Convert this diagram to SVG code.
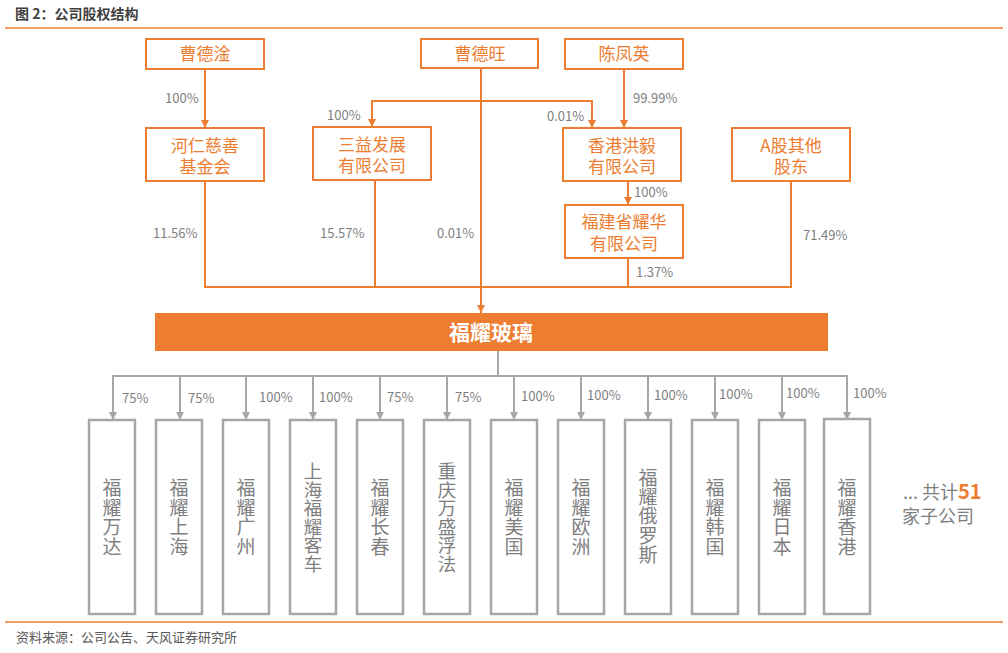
<svg xmlns="http://www.w3.org/2000/svg" width="1008" height="653" viewBox="0 0 1008 653">
<style>
text{font-family:"Noto Sans CJK SC","Liberation Sans",sans-serif}
.title{font-size:14px;font-weight:bold;fill:#404040}
.src{font-size:13px;fill:#595959}
.obox{fill:#fff;stroke:#ED7D31;stroke-width:2}
.otxt{font-size:17px;fill:#ED7D31;text-anchor:middle}
.pct{font-size:13px;fill:#7f7f7f}
.oline{fill:none;stroke:#ED7D31;stroke-width:2}
.gline{fill:none;stroke:#a6a6a6;stroke-width:2}
.gbox{fill:#fff;stroke:#a6a6a6;stroke-width:2.5}
.gtxt{font-size:19px;fill:#7f7f7f;text-anchor:middle}
.g6{font-size:18.5px}
.rule{stroke:#ED7D31;stroke-width:1.5}
</style>
<defs>
<marker id="ao" markerUnits="userSpaceOnUse" markerWidth="10" markerHeight="10" refX="9" refY="5" orient="auto"><path d="M1,1 L9,5 L1,9 Z" fill="#ED7D31"/></marker>
<marker id="ag" markerUnits="userSpaceOnUse" markerWidth="10" markerHeight="10" refX="9" refY="5" orient="auto"><path d="M1,1 L9,5 L1,9 Z" fill="#a6a6a6"/></marker>
</defs>
<rect width="1008" height="653" fill="#fff"/>
<text class="title" x="15" y="19">图 2：公司股权结构</text>
<line class="rule" x1="5" y1="28" x2="1003" y2="28"/>
<line class="rule" x1="5" y1="622" x2="1003" y2="622"/>
<text class="src" x="16" y="642">资料来源：公司公告、天风证券研究所</text>

<g id="connectors">
<path class="oline" d="M205 69 V128" marker-end="url(#ao)"/>
<path class="oline" d="M481 68 V313" marker-end="url(#ao)"/>
<path class="oline" d="M481 101 H372 V127" marker-end="url(#ao)"/>
<path class="oline" d="M481 101 H592 V128" marker-end="url(#ao)"/>
<path class="oline" d="M624 69 V128" marker-end="url(#ao)"/>
<path class="oline" d="M628 181 V205" marker-end="url(#ao)"/>
<path class="oline" d="M205 181 V287 H791 V181"/>
<path class="oline" d="M375 180 V287"/>
<path class="oline" d="M628 258 V287"/>
<path class="gline" d="M498 351 V376"/>
<path class="gline" d="M113 420 V376 H847 V420"/>
<path class="gline" d="M180 376 V420" marker-end="url(#ag)"/>
<path class="gline" d="M246 376 V420" marker-end="url(#ag)"/>
<path class="gline" d="M313 376 V420" marker-end="url(#ag)"/>
<path class="gline" d="M380 376 V420" marker-end="url(#ag)"/>
<path class="gline" d="M447 376 V420" marker-end="url(#ag)"/>
<path class="gline" d="M514 376 V420" marker-end="url(#ag)"/>
<path class="gline" d="M581 376 V420" marker-end="url(#ag)"/>
<path class="gline" d="M648 376 V420" marker-end="url(#ag)"/>
<path class="gline" d="M715 376 V420" marker-end="url(#ag)"/>
<path class="gline" d="M782 376 V420" marker-end="url(#ag)"/>
<path class="gline" d="M113 390 V420" marker-end="url(#ag)"/>
<path class="gline" d="M847 390 V420" marker-end="url(#ag)"/>
<text class="pct" x="165" y="103">100%</text>
<text class="pct" x="327" y="120">100%</text>
<text class="pct" x="547" y="121">0.01%</text>
<text class="pct" x="633" y="103">99.99%</text>
<text class="pct" x="634" y="197">100%</text>
<text class="pct" x="153" y="238">11.56%</text>
<text class="pct" x="320" y="238">15.57%</text>
<text class="pct" x="437" y="238">0.01%</text>
<text class="pct" x="636" y="277">1.37%</text>
<text class="pct" x="803" y="240">71.49%</text>
<text class="pct" x="122" y="403">75%</text>
<text class="pct" x="188" y="403">75%</text>
<text class="pct" x="259" y="402">100%</text>
<text class="pct" x="319" y="402">100%</text>
<text class="pct" x="387" y="402">75%</text>
<text class="pct" x="455" y="402">75%</text>
<text class="pct" x="521" y="401">100%</text>
<text class="pct" x="587" y="400">100%</text>
<text class="pct" x="654" y="400">100%</text>
<text class="pct" x="719" y="399">100%</text>
<text class="pct" x="786" y="398">100%</text>
<text class="pct" x="853" y="398">100%</text>
</g>

<g id="n-caodegan"><rect class="obox" x="146" y="39" width="118" height="30"/><text class="otxt" x="205" y="60">曹德淦</text></g>
<g id="n-caodewang"><rect class="obox" x="421" y="39" width="117" height="29"/><text class="otxt" x="480" y="60">曹德旺</text></g>
<g id="n-chenfengying"><rect class="obox" x="565" y="39" width="118" height="30"/><text class="otxt" x="624" y="60">陈凤英</text></g>
<g id="n-heren"><rect class="obox" x="146" y="128" width="118" height="53"/><text class="otxt" x="205" y="152">河仁慈善</text><text class="otxt" x="205" y="173">基金会</text></g>
<g id="n-sanyi"><rect class="obox" x="313" y="127" width="118" height="53"/><text class="otxt" x="372" y="151">三益发展</text><text class="otxt" x="372" y="172">有限公司</text></g>
<g id="n-hongyi"><rect class="obox" x="563" y="128" width="118" height="53"/><text class="otxt" x="622" y="152">香港洪毅</text><text class="otxt" x="622" y="173">有限公司</text></g>
<g id="n-agu"><rect class="obox" x="732" y="128" width="118" height="53"/><text class="otxt" x="791" y="152">A股其他</text><text class="otxt" x="791" y="173">股东</text></g>
<g id="n-yaohua"><rect class="obox" x="565" y="205" width="118" height="53"/><text class="otxt" x="624" y="228">福建省耀华</text><text class="otxt" x="624" y="250">有限公司</text></g>
<g id="n-fuyao"><rect x="155" y="313" width="673" height="38" fill="#ED7D31"/><text x="491" y="340" font-size="21" font-weight="bold" fill="#fff" text-anchor="middle">福耀玻璃</text></g>

<g id="n-s1"><rect class="gbox" x="89" y="420" width="46" height="194"/><text class="gtxt" x="112" y="495"><tspan x="112">福</tspan><tspan x="112" dy="19.5">耀</tspan><tspan x="112" dy="19.5">万</tspan><tspan x="112" dy="19.5">达</tspan></text></g>
<g id="n-s2"><rect class="gbox" x="156" y="420" width="46" height="194"/><text class="gtxt" x="179" y="495"><tspan x="179">福</tspan><tspan x="179" dy="19.5">耀</tspan><tspan x="179" dy="19.5">上</tspan><tspan x="179" dy="19.5">海</tspan></text></g>
<g id="n-s3"><rect class="gbox" x="223" y="420" width="46" height="194"/><text class="gtxt" x="246" y="495"><tspan x="246">福</tspan><tspan x="246" dy="19.5">耀</tspan><tspan x="246" dy="19.5">广</tspan><tspan x="246" dy="19.5">州</tspan></text></g>
<g id="n-s4"><rect class="gbox" x="290" y="420" width="46" height="194"/><text class="gtxt g6" x="313" y="478"><tspan x="313">上</tspan><tspan x="313" dy="18.6">海</tspan><tspan x="313" dy="18.6">福</tspan><tspan x="313" dy="18.6">耀</tspan><tspan x="313" dy="18.6">客</tspan><tspan x="313" dy="18.6">车</tspan></text></g>
<g id="n-s5"><rect class="gbox" x="357" y="420" width="46" height="194"/><text class="gtxt" x="380" y="495"><tspan x="380">福</tspan><tspan x="380" dy="19.5">耀</tspan><tspan x="380" dy="19.5">长</tspan><tspan x="380" dy="19.5">春</tspan></text></g>
<g id="n-s6"><rect class="gbox" x="424" y="420" width="46" height="194"/><text class="gtxt g6" x="447" y="478"><tspan x="447">重</tspan><tspan x="447" dy="18.6">庆</tspan><tspan x="447" dy="18.6">万</tspan><tspan x="447" dy="18.6">盛</tspan><tspan x="447" dy="18.6">浮</tspan><tspan x="447" dy="18.6">法</tspan></text></g>
<g id="n-s7"><rect class="gbox" x="491" y="420" width="46" height="194"/><text class="gtxt" x="514" y="495"><tspan x="514">福</tspan><tspan x="514" dy="19.5">耀</tspan><tspan x="514" dy="19.5">美</tspan><tspan x="514" dy="19.5">国</tspan></text></g>
<g id="n-s8"><rect class="gbox" x="558" y="420" width="46" height="194"/><text class="gtxt" x="581" y="495"><tspan x="581">福</tspan><tspan x="581" dy="19.5">耀</tspan><tspan x="581" dy="19.5">欧</tspan><tspan x="581" dy="19.5">洲</tspan></text></g>
<g id="n-s9"><rect class="gbox" x="625" y="420" width="46" height="194"/><text class="gtxt" x="648" y="485"><tspan x="648">福</tspan><tspan x="648" dy="19.2">耀</tspan><tspan x="648" dy="19.2">俄</tspan><tspan x="648" dy="19.2">罗</tspan><tspan x="648" dy="19.2">斯</tspan></text></g>
<g id="n-s10"><rect class="gbox" x="692" y="420" width="46" height="194"/><text class="gtxt" x="715" y="495"><tspan x="715">福</tspan><tspan x="715" dy="19.5">耀</tspan><tspan x="715" dy="19.5">韩</tspan><tspan x="715" dy="19.5">国</tspan></text></g>
<g id="n-s11"><rect class="gbox" x="759" y="420" width="46" height="194"/><text class="gtxt" x="782" y="495"><tspan x="782">福</tspan><tspan x="782" dy="19.5">耀</tspan><tspan x="782" dy="19.5">日</tspan><tspan x="782" dy="19.5">本</tspan></text></g>
<g id="n-s12"><rect class="gbox" x="824" y="419" width="46" height="195"/><text class="gtxt" x="847" y="495"><tspan x="847">福</tspan><tspan x="847" dy="19.5">耀</tspan><tspan x="847" dy="19.5">香</tspan><tspan x="847" dy="19.5">港</tspan></text></g>

<g id="n-total"><text x="903" y="499" font-size="18" fill="#7f7f7f">... 共计<tspan fill="#ED7D31" font-weight="bold" font-size="20">51</tspan></text><text x="902" y="523" font-size="18" fill="#7f7f7f">家子公司</text></g>
</svg>
